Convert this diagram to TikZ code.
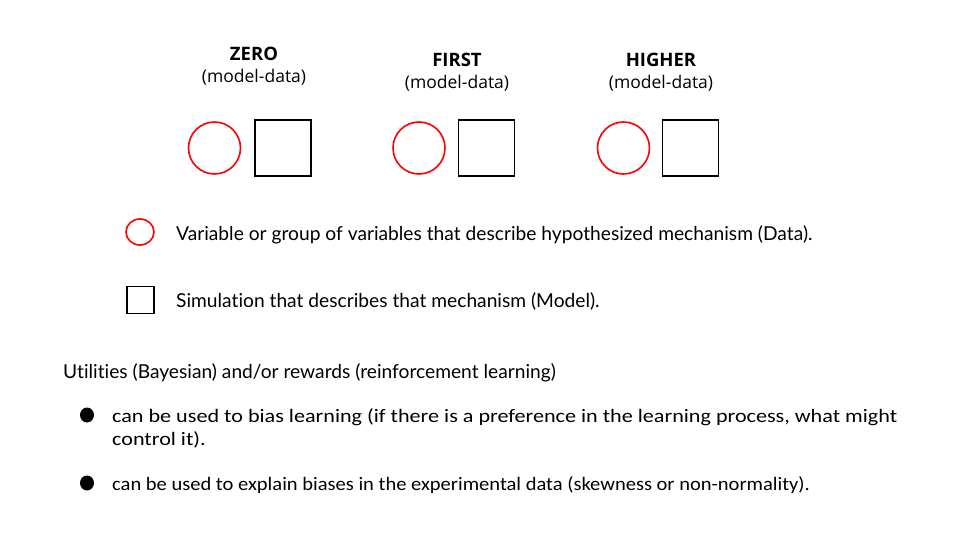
\documentclass[tikz,border=0pt]{standalone}
\usepackage{fontspec}
\usetikzlibrary{shapes.geometric}
\setmainfont{Lato}[Ligatures=NoCommon]
\newfontfamily\headfont{Open Sans}
\newfontfamily\bulletfont{Carlito}[FakeStretch=1.165]
\newfontfamily\bulletfontnarrow{Carlito}[FakeStretch=1.08]
\begin{document}
\begin{tikzpicture}[x=1pt,y=-1pt,
  datacirc/.style={draw=red,line width=1.6pt,circle,minimum size=52pt,inner sep=0pt},
  modelbox/.style={draw=black,line width=1.6pt,minimum size=56pt,inner sep=0pt},
  headtitle/.style={anchor=base,font=\headfont\bfseries\fontsize{18.5}{22}\selectfont,inner sep=0pt},
  headsub/.style={anchor=base,font=\headfont\fontsize{17.5}{21}\selectfont,inner sep=0pt},
  legendtext/.style={anchor=base west,font=\fontsize{19.2}{23}\selectfont,inner sep=0pt},
  bullettext/.style={anchor=base west,font=\bulletfont\fontsize{19}{23}\selectfont,inner sep=0pt},
  dot/.style={fill=black,ellipse,minimum width=14pt,minimum height=15pt,inner sep=0pt}]
\useasboundingbox (0,0) rectangle (960,540);

% order headings
\node[headtitle] (zt) at (254,61) {ZERO};
\node[headsub] (zs) at (254,83) {(model-data)};
\node[headtitle] (ft) at (457,67) {FIRST};
\node[headsub] (fs) at (457,89) {(model-data)};
\node[headtitle] (ht) at (661,67) {HIGHER};
\node[headsub] (hs) at (661,89) {(model-data)};

% data / model pairs
\node[datacirc] (zc) at (214.5,148) {};
\node[modelbox] (zb) at (283,148) {};
\node[datacirc] (fc) at (419,148) {};
\node[modelbox] (fb) at (486.5,148) {};
\node[datacirc] (hc) at (623.5,148) {};
\node[modelbox] (hb) at (690.5,148) {};

% legend
\node[draw=red,line width=1.6pt,ellipse,minimum width=28pt,minimum height=26pt,inner sep=0pt] (lc) at (140,232) {};
\node[legendtext] (lct) at (176,240) {Variable or group of variables that describe hypothesized mechanism (Data).};
\node[draw=black,line width=1.6pt,minimum size=27pt,inner sep=0pt] (lb) at (140.5,300) {};
\node[legendtext] (lbt) at (176,307) {Simulation that describes that mechanism (Model).};

% utilities
\node[legendtext] (ut) at (63,378) {Utilities (Bayesian) and/or rewards (reinforcement learning)};
\node[dot] (d1) at (87,415) {};
\node[bullettext] (b1) at (112,422) {can be used to bias learning (if there is a preference in the learning process, what might};
\node[bullettext] (b1b) at (112,445) {control it).};
\node[dot] (d2) at (87,483) {};
\node[bullettext,font=\bulletfontnarrow\fontsize{19}{23}\selectfont] (b2) at (112,490) {can be used to explain biases in the experimental data (skewness or non-normality).};
\end{tikzpicture}
\end{document}
